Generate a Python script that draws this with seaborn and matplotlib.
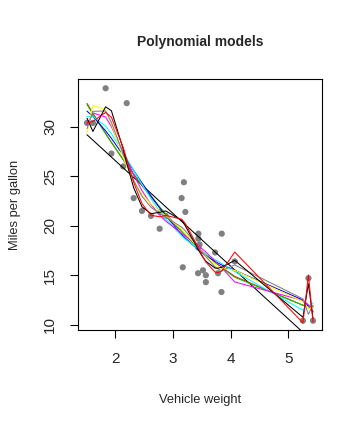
import numpy as np
import pandas as pd
import matplotlib
matplotlib.use("Agg")
import matplotlib.pyplot as plt
import seaborn as sns

wt = [2.620, 2.875, 2.320, 3.215, 3.440, 3.460, 3.570, 3.190, 3.150, 3.440,
      3.440, 4.070, 3.730, 3.780, 5.250, 5.424, 5.345, 2.200, 1.615, 1.835,
      2.465, 3.520, 3.435, 3.840, 3.845, 1.935, 2.140, 1.513, 3.170, 2.770,
      3.570, 2.780]
mpg = [21.0, 21.0, 22.8, 21.4, 18.7, 18.1, 14.3, 24.4, 22.8, 19.2,
       17.8, 16.4, 17.3, 15.2, 10.4, 10.4, 14.7, 32.4, 30.4, 33.9,
       21.5, 15.5, 15.2, 13.3, 19.2, 27.3, 26.0, 30.4, 15.8, 19.7,
       15.0, 21.4]
degrees = list(range(1, 11))
r_palette = ["black", "red", "#00CD00", "blue", "cyan", "magenta", "yellow", "gray"]

df = pd.DataFrame({"wt": wt, "mpg": mpg})

sns.set_style("white")
plt.rcParams["font.family"] = ["Liberation Sans", "DejaVu Sans"]

fig = plt.figure(figsize=(3.63, 4.28), dpi=100)
ax = fig.add_axes([78/363, 1-330/428, (322-78)/363, (330-79)/428])

sns.scatterplot(data=df, x="wt", y="mpg", ax=ax, color="gray", s=20,
                edgecolor="none", zorder=1)

x = np.array(wt)
y = np.array(mpg)
for d in degrees:
    p = np.polynomial.Polynomial.fit(x, y, d)
    fit = pd.DataFrame({"wt": x, "fit": p(x)})
    sns.lineplot(data=fit, x="wt", y="fit", ax=ax, estimator=None, sort=True,
                 color=r_palette[(d - 1) % 8], linewidth=0.75, zorder=2)

ax.set_xlim(1.357, 5.580)
ax.set_ylim(9.46, 34.84)
ax.set_xticks([2, 3, 4, 5])
ax.set_yticks([10, 15, 20, 25, 30])
ax.tick_params(axis="both", which="both", direction="out", length=6,
               width=0.8, color="black", labelsize=11, left=True, bottom=True)
ax.tick_params(axis="x", pad=10)
ax.tick_params(axis="y", pad=9)
for lab in ax.get_yticklabels():
    lab.set_rotation(90)
    lab.set_va("center")
for s in ax.spines.values():
    s.set_visible(True)
    s.set_color("black")
    s.set_linewidth(0.8)

ax.set_xlabel("Vehicle weight", fontsize=9.3)
ax.set_ylabel("Miles per gallon", fontsize=9.3)
ax.xaxis.label.set_va("center")
ax.yaxis.label.set_va("center")
ax.xaxis.set_label_coords((200 - 78) / 244, (330 - 400) / 251)
ax.yaxis.set_label_coords((15 - 78) / 244, (330 - 205) / 251)
fig.text(200/363, 1-42/428, "Polynomial models", ha="center", va="center",
         fontsize=10, fontweight="bold")

fig.savefig("out.png", dpi=100)
